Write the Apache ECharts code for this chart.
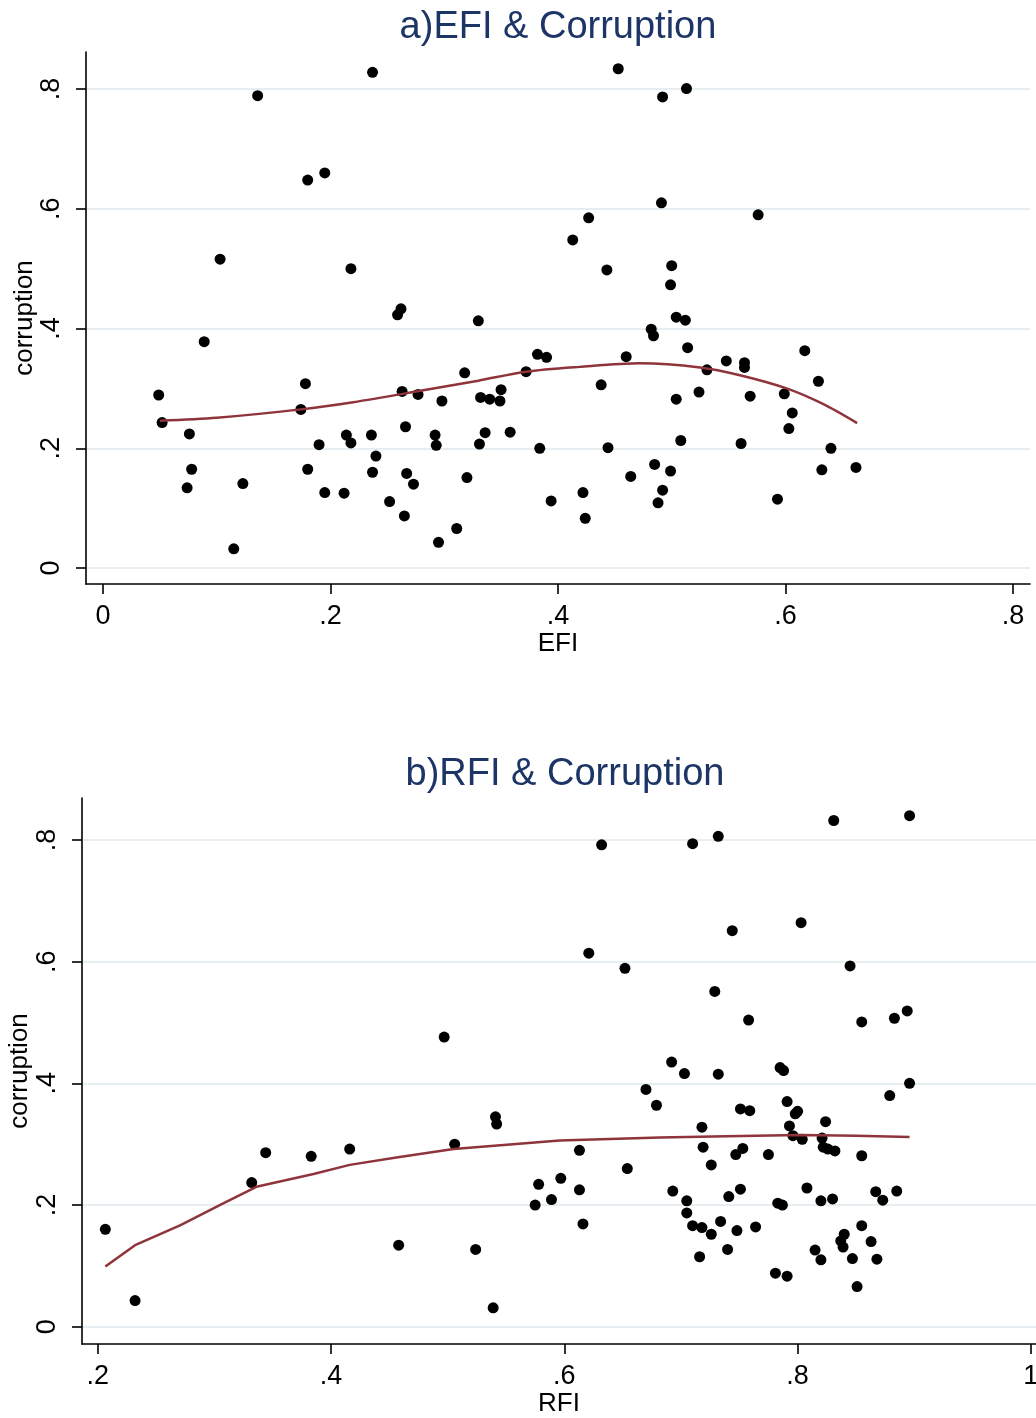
<!DOCTYPE html>
<html>
<head>
<meta charset="utf-8">
<script src="https://cdn.jsdelivr.net/npm/echarts@6/dist/echarts.min.js"></script>
<style>
html,body{margin:0;padding:0;background:#fff;}
#chart{width:1036px;height:1418px;}
</style>
</head>
<body>
<div id="chart"></div>
<script>
// ---- Panel a) EFI & Corruption ----
const efiX = [0.237,0.136,0.180,0.195,0.103,0.218,0.262,0.259,0.089,0.453,0.492,0.513,0.491,0.427,0.413,0.443,0.500,0.499,0.504,0.512,0.482,0.484,0.330,0.576,0.049,0.052,0.076,0.078,0.074,0.123,0.115,0.178,0.174,0.190,0.180,0.195,0.212,0.214,0.218,0.236,0.240,0.237,0.252,0.265,0.263,0.277,0.266,0.267,0.273,0.298,0.318,0.332,0.340,0.349,0.350,0.292,0.293,0.331,0.336,0.358,0.384,0.372,0.382,0.390,0.320,0.295,0.311,0.394,0.422,0.424,0.438,0.444,0.460,0.464,0.514,0.504,0.508,0.524,0.531,0.548,0.485,0.499,0.492,0.488,0.561,0.564,0.564,0.569,0.617,0.599,0.629,0.606,0.603,0.640,0.632,0.662,0.593];
const efiY = [0.828,0.789,0.648,0.660,0.516,0.500,0.433,0.423,0.378,0.834,0.787,0.801,0.610,0.585,0.548,0.498,0.505,0.473,0.419,0.414,0.399,0.388,0.413,0.590,0.289,0.243,0.224,0.165,0.134,0.141,0.032,0.308,0.265,0.206,0.165,0.126,0.125,0.222,0.209,0.222,0.187,0.160,0.111,0.087,0.295,0.290,0.236,0.158,0.140,0.279,0.326,0.285,0.282,0.279,0.298,0.222,0.205,0.207,0.226,0.227,0.200,0.328,0.357,0.352,0.151,0.043,0.066,0.112,0.126,0.083,0.306,0.201,0.353,0.153,0.368,0.282,0.213,0.294,0.331,0.346,0.173,0.162,0.130,0.109,0.208,0.343,0.335,0.287,0.363,0.291,0.312,0.259,0.233,0.200,0.164,0.168,0.115];
const efiFitX = [0.050,0.100,0.174,0.220,0.279,0.330,0.372,0.419,0.472,0.525,0.560,0.601,0.633,0.663];
const efiFitY = [0.246,0.251,0.265,0.277,0.296,0.313,0.328,0.336,0.342,0.335,0.322,0.300,0.274,0.242];

// ---- Panel b) RFI & Corruption ----
const rfiX = [0.2065,0.232,0.332,0.344,0.383,0.416,0.458,0.506,0.524,0.541,0.542,0.539,0.578,0.575,0.589,0.597,0.497,0.632,0.710,0.732,0.744,0.803,0.621,0.652,0.729,0.758,0.692,0.703,0.732,0.785,0.788,0.670,0.831,0.896,0.845,0.855,0.883,0.894,0.896,0.679,0.751,0.759,0.791,0.798,0.800,0.793,0.796,0.804,0.718,0.613,0.719,0.747,0.753,0.775,0.726,0.654,0.613,0.693,0.705,0.705,0.741,0.751,0.783,0.787,0.616,0.710,0.718,0.734,0.726,0.748,0.764,0.740,0.716,0.781,0.791,0.879,0.824,0.821,0.822,0.826,0.832,0.855,0.808,0.820,0.830,0.867,0.873,0.885,0.855,0.840,0.837,0.839,0.863,0.815,0.820,0.847,0.868,0.851];
const rfiY = [0.160,0.043,0.237,0.286,0.280,0.292,0.134,0.300,0.127,0.345,0.333,0.031,0.234,0.200,0.209,0.244,0.476,0.792,0.794,0.806,0.651,0.664,0.614,0.589,0.551,0.504,0.435,0.416,0.415,0.426,0.421,0.390,0.832,0.840,0.593,0.501,0.507,0.519,0.400,0.364,0.358,0.355,0.370,0.350,0.354,0.330,0.314,0.308,0.328,0.290,0.295,0.283,0.293,0.283,0.266,0.260,0.225,0.223,0.207,0.187,0.214,0.226,0.203,0.200,0.169,0.166,0.163,0.173,0.152,0.158,0.164,0.127,0.115,0.088,0.083,0.380,0.337,0.310,0.295,0.292,0.289,0.281,0.228,0.207,0.210,0.222,0.208,0.223,0.166,0.152,0.141,0.131,0.140,0.126,0.110,0.112,0.111,0.066];
const rfiFitX = [0.2065,0.232,0.271,0.308,0.336,0.385,0.416,0.456,0.505,0.556,0.596,0.682,0.739,0.802,0.850,0.896];
const rfiFitY = [0.099,0.134,0.167,0.203,0.230,0.251,0.266,0.278,0.292,0.300,0.306,0.311,0.313,0.315,0.314,0.312];

// tick labels
const efiXTicks = [0, 0.2, 0.4, 0.6, 0.8];
const rfiXTicks = [0.2, 0.4, 0.6, 0.8, 1];
const yTicks = [0, 0.2, 0.4, 0.6, 0.8];

const zip = (a, b) => a.map((v, i) => [v, b[i]]);
const fmt = v => { const r = Math.round(v * 10) / 10; if (r === 0) return '0'; if (r === 1) return '1'; return String(r).replace(/^0\./, '.'); };

const FONT = '"Liberation Sans", Arial, sans-serif';
const GRIDC = '#e7eef1';
const TITLEC = '#1c3466';
const LINEC = '#8f343b';

function xAxisCfg(gi, name, min, max, ticks) {
  return {
    type: 'value', gridIndex: gi, min: min, max: max,
    name: name, nameLocation: 'middle', nameGap: 44,
    nameTextStyle: { fontFamily: FONT, fontSize: 26, color: '#000' },
    axisLine: { show: true, onZero: false, lineStyle: { color: '#000', width: 1.6 } },
    axisTick: { show: true, length: 10, customValues: ticks, lineStyle: { color: '#000', width: 1.6 } },
    axisLabel: { show: true, customValues: ticks, formatter: fmt, margin: 19, fontFamily: FONT, fontSize: 27, color: '#000' },
    splitLine: { show: false }
  };
}
function yAxisCfg(gi, min, max, gap) {
  return {
    type: 'value', gridIndex: gi, min: min, max: max,
    name: 'corruption', nameLocation: 'middle', nameGap: gap, nameRotate: 90, nameMoveOverlap: false,
    nameTextStyle: { fontFamily: FONT, fontSize: 26, color: '#000' },
    axisLine: { show: true, onZero: false, lineStyle: { color: '#000', width: 1.6 } },
    axisTick: { show: true, length: 10, customValues: yTicks, lineStyle: { color: '#000', width: 1.6 } },
    axisLabel: { show: true, customValues: yTicks, formatter: fmt, rotate: 90, margin: 21, fontFamily: FONT, fontSize: 27, color: '#000' },
    splitLine: { show: true, lineStyle: { color: GRIDC, width: 2 } }
  };
}

const option = {
  backgroundColor: '#fff',
  animation: false,
  title: [
    { text: 'a)EFI & Corruption', left: 558, top: 9, textAlign: 'center', padding: 0,
      textStyle: { fontFamily: FONT, fontSize: 38, fontWeight: 'normal', color: TITLEC } },
    { text: 'b)RFI & Corruption', left: 565, top: 756, textAlign: 'center', padding: 0,
      textStyle: { fontFamily: FONT, fontSize: 38, fontWeight: 'normal', color: TITLEC } }
  ],
  grid: [
    { left: 86, right: 6, top: 52, height: 532, containLabel: false, outerBoundsMode: 'none' },
    { left: 82, right: 0, top: 798, height: 546, containLabel: false, outerBoundsMode: 'none' }
  ],
  xAxis: [
    xAxisCfg(0, 'EFI', -0.0149, 0.815, efiXTicks),
    xAxisCfg(1, 'RFI', 0.1865, 1.0044, rfiXTicks)
  ],
  yAxis: [
    yAxisCfg(0, -0.0267, 0.862, 48),
    yAxisCfg(1, -0.0284, 0.869, 49)
  ],
  series: [
    { type: 'scatter', xAxisIndex: 0, yAxisIndex: 0, data: zip(efiX, efiY), symbol: 'circle', symbolSize: 11,
      itemStyle: { color: '#000', opacity: 1 }, z: 3 },
    { type: 'line', xAxisIndex: 0, yAxisIndex: 0, data: zip(efiFitX, efiFitY), smooth: 0.3, showSymbol: false,
      lineStyle: { color: LINEC, width: 2.5 }, z: 4 },
    { type: 'scatter', xAxisIndex: 1, yAxisIndex: 1, data: zip(rfiX, rfiY), symbol: 'circle', symbolSize: 11,
      itemStyle: { color: '#000', opacity: 1 }, z: 3 },
    { type: 'line', xAxisIndex: 1, yAxisIndex: 1, data: zip(rfiFitX, rfiFitY), smooth: false, showSymbol: false,
      lineStyle: { color: LINEC, width: 2.5 }, z: 4 }
  ]
};

const chart = echarts.init(document.getElementById('chart'), null, { renderer: 'canvas', width: 1036, height: 1418 });
chart.setOption(option);
</script>
</body>
</html>
